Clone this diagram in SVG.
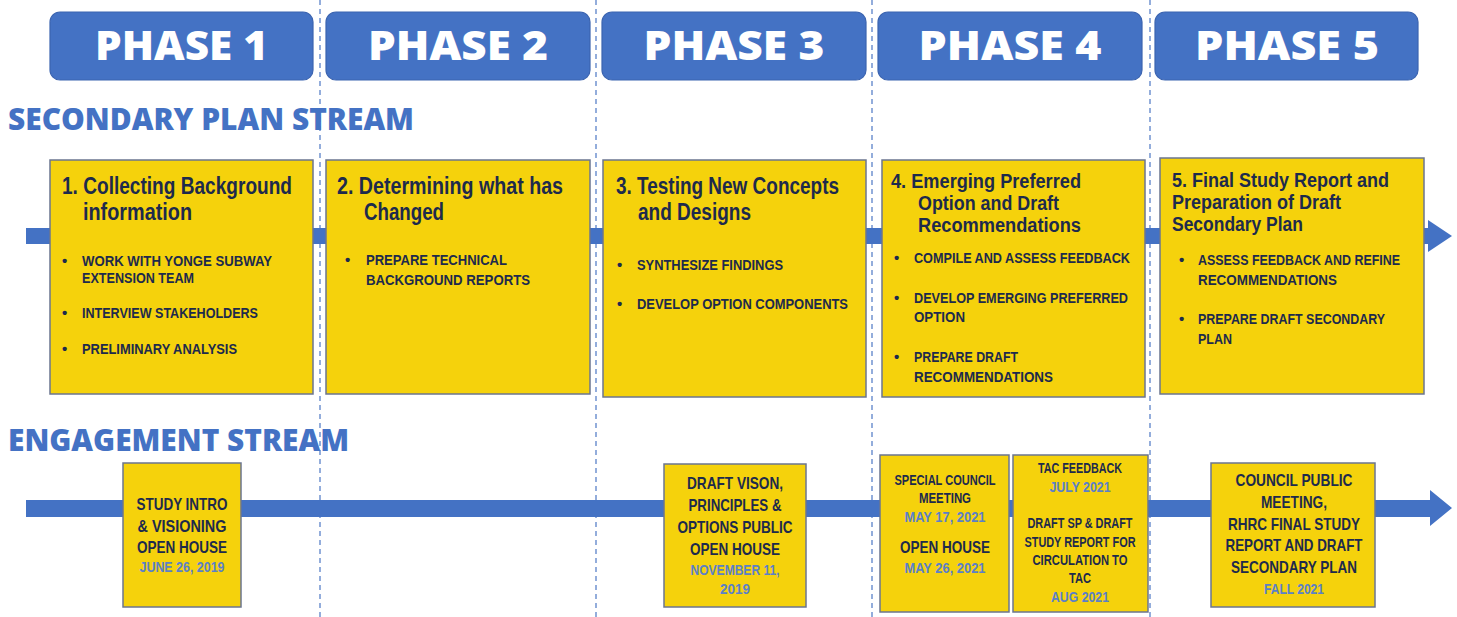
<svg xmlns="http://www.w3.org/2000/svg" width="1457" height="617" viewBox="0 0 1457 617">
<style>
.ph{fill:#4472c4;stroke:#3b64b0;stroke-width:1.2}
.pht{font-family:"Open Sans","Liberation Sans",sans-serif;font-weight:800;font-size:40px;fill:#ffffff;text-anchor:middle}
.stream{font-family:"Open Sans","Liberation Sans",sans-serif;font-weight:800;font-size:30px;fill:#4472c4}
.dash{stroke:#5a82c9;stroke-width:1.3;stroke-dasharray:5 4;fill:none}
.arrow{fill:#4472c4}
.box{fill:#f5d20c;stroke:#6b7590;stroke-width:1.5}
.ttl{font-family:"Liberation Sans Narrow","Liberation Sans",sans-serif;font-weight:700;font-size:23px;fill:#1d2a4c}
.ttl2{font-family:"Liberation Sans Narrow","Liberation Sans",sans-serif;font-weight:700;font-size:19.5px;fill:#1d2a4c}
.bl{font-family:"Liberation Sans Narrow","Liberation Sans",sans-serif;font-weight:700;font-size:15px;fill:#1d2a4c}
.et{font-family:"Liberation Sans Narrow","Liberation Sans",sans-serif;font-weight:700;font-size:17px;fill:#1d2a4c;text-anchor:middle}
.es{font-family:"Liberation Sans Narrow","Liberation Sans",sans-serif;font-weight:700;font-size:14.5px;fill:#1d2a4c;text-anchor:middle}
.dt{font-family:"Liberation Sans Narrow","Liberation Sans",sans-serif;font-weight:700;font-size:14.5px;fill:#5b80c8;text-anchor:middle}
</style>

<g id="dividers">
<line class="dash" x1="320" y1="0" x2="320" y2="617"/>
<line class="dash" x1="596" y1="0" x2="596" y2="617"/>
<line class="dash" x1="872" y1="0" x2="872" y2="617"/>
<line class="dash" x1="1150" y1="0" x2="1150" y2="617"/>
</g>

<g id="connectors">
<polygon class="arrow" points="26,228 1428,228 1428,220 1452,236 1428,252 1428,244 26,244"/>
<polygon class="arrow" points="26,500 1430,500 1430,490 1452,508 1430,526 1430,517 26,517"/>
</g>

<g id="phase1"><rect class="ph" x="50" y="12" width="263" height="68" rx="10"/><text class="pht" x="181.5" y="60" textLength="173" lengthAdjust="spacingAndGlyphs">PHASE 1</text></g>
<g id="phase2"><rect class="ph" x="326" y="12" width="264" height="68" rx="10"/><text class="pht" x="458" y="60" textLength="180" lengthAdjust="spacingAndGlyphs">PHASE 2</text></g>
<g id="phase3"><rect class="ph" x="602" y="12" width="264" height="68" rx="10"/><text class="pht" x="734" y="60" textLength="181" lengthAdjust="spacingAndGlyphs">PHASE 3</text></g>
<g id="phase4"><rect class="ph" x="878" y="12" width="264" height="68" rx="10"/><text class="pht" x="1010" y="60" textLength="183" lengthAdjust="spacingAndGlyphs">PHASE 4</text></g>
<g id="phase5"><rect class="ph" x="1155" y="12" width="263" height="68" rx="10"/><text class="pht" x="1287" y="60" textLength="184" lengthAdjust="spacingAndGlyphs">PHASE 5</text></g>

<g id="stream-labels">
<text class="stream" x="8" y="130" textLength="406" lengthAdjust="spacingAndGlyphs">SECONDARY PLAN STREAM</text>
<text class="stream" x="8" y="451" textLength="341" lengthAdjust="spacingAndGlyphs">ENGAGEMENT STREAM</text>
</g>

<g id="step1">
<rect class="box" x="50" y="160" width="263" height="234"/>
<text class="ttl" x="62" y="194" textLength="230" lengthAdjust="spacingAndGlyphs">1. Collecting Background</text>
<text class="ttl" x="83" y="220" textLength="109" lengthAdjust="spacingAndGlyphs">information</text>
<text class="bl" x="62" y="266">•</text>
<text class="bl" x="82" y="266" textLength="190" lengthAdjust="spacingAndGlyphs">WORK WITH YONGE SUBWAY</text>
<text class="bl" x="82" y="283" textLength="112" lengthAdjust="spacingAndGlyphs">EXTENSION TEAM</text>
<text class="bl" x="62" y="318">•</text>
<text class="bl" x="82" y="318" textLength="176" lengthAdjust="spacingAndGlyphs">INTERVIEW STAKEHOLDERS</text>
<text class="bl" x="62" y="354">•</text>
<text class="bl" x="82" y="354" textLength="155" lengthAdjust="spacingAndGlyphs">PRELIMINARY ANALYSIS</text>
</g>

<g id="step2">
<rect class="box" x="326" y="160" width="264" height="234"/>
<text class="ttl" x="337" y="194" textLength="226" lengthAdjust="spacingAndGlyphs">2. Determining what has</text>
<text class="ttl" x="364" y="220" textLength="80" lengthAdjust="spacingAndGlyphs">Changed</text>
<text class="bl" x="345" y="265">•</text>
<text class="bl" x="366" y="265" textLength="141" lengthAdjust="spacingAndGlyphs">PREPARE TECHNICAL</text>
<text class="bl" x="366" y="285" textLength="164" lengthAdjust="spacingAndGlyphs">BACKGROUND REPORTS</text>
</g>

<g id="step3">
<rect class="box" x="603" y="160" width="263" height="237"/>
<text class="ttl" x="616" y="194" textLength="223" lengthAdjust="spacingAndGlyphs">3. Testing New Concepts</text>
<text class="ttl" x="638" y="220" textLength="113" lengthAdjust="spacingAndGlyphs">and Designs</text>
<text class="bl" x="617" y="270">•</text>
<text class="bl" x="637" y="270" textLength="146" lengthAdjust="spacingAndGlyphs">SYNTHESIZE FINDINGS</text>
<text class="bl" x="617" y="309">•</text>
<text class="bl" x="637" y="309" textLength="211" lengthAdjust="spacingAndGlyphs">DEVELOP OPTION COMPONENTS</text>
</g>

<g id="step4">
<rect class="box" x="882" y="160" width="263" height="237"/>
<text class="ttl2" x="891" y="188" textLength="190" lengthAdjust="spacingAndGlyphs">4. Emerging Preferred</text>
<text class="ttl2" x="918" y="210" textLength="141" lengthAdjust="spacingAndGlyphs">Option and Draft</text>
<text class="ttl2" x="918" y="232" textLength="163" lengthAdjust="spacingAndGlyphs">Recommendations</text>
<text class="bl" x="894" y="263">•</text>
<text class="bl" x="914" y="263" textLength="216" lengthAdjust="spacingAndGlyphs">COMPILE AND ASSESS FEEDBACK</text>
<text class="bl" x="894" y="303">•</text>
<text class="bl" x="914" y="303" textLength="214" lengthAdjust="spacingAndGlyphs">DEVELOP EMERGING PREFERRED</text>
<text class="bl" x="914" y="322" textLength="51" lengthAdjust="spacingAndGlyphs">OPTION</text>
<text class="bl" x="894" y="362">•</text>
<text class="bl" x="914" y="362" textLength="104" lengthAdjust="spacingAndGlyphs">PREPARE DRAFT</text>
<text class="bl" x="914" y="382" textLength="139" lengthAdjust="spacingAndGlyphs">RECOMMENDATIONS</text>
</g>

<g id="step5">
<rect class="box" x="1160" y="158" width="264" height="236"/>
<text class="ttl2" x="1172" y="187" textLength="217" lengthAdjust="spacingAndGlyphs">5. Final Study Report and</text>
<text class="ttl2" x="1172" y="209" textLength="169" lengthAdjust="spacingAndGlyphs">Preparation of Draft</text>
<text class="ttl2" x="1172" y="231" textLength="131" lengthAdjust="spacingAndGlyphs">Secondary Plan</text>
<text class="bl" x="1179" y="265">•</text>
<text class="bl" x="1198" y="265" textLength="202" lengthAdjust="spacingAndGlyphs">ASSESS FEEDBACK AND REFINE</text>
<text class="bl" x="1198" y="285" textLength="139" lengthAdjust="spacingAndGlyphs">RECOMMENDATIONS</text>
<text class="bl" x="1179" y="324">•</text>
<text class="bl" x="1198" y="324" textLength="187" lengthAdjust="spacingAndGlyphs">PREPARE DRAFT SECONDARY</text>
<text class="bl" x="1198" y="344" textLength="34" lengthAdjust="spacingAndGlyphs">PLAN</text>
</g>

<g id="event1">
<rect class="box" x="123" y="463" width="118" height="144"/>
<text class="et" x="182" y="510" textLength="91" lengthAdjust="spacingAndGlyphs">STUDY INTRO</text>
<text class="et" x="182" y="532" textLength="89" lengthAdjust="spacingAndGlyphs">&amp; VISIONING</text>
<text class="et" x="182" y="553" textLength="90" lengthAdjust="spacingAndGlyphs">OPEN HOUSE</text>
<text class="dt" x="182" y="572" textLength="85" lengthAdjust="spacingAndGlyphs">JUNE 26, 2019</text>
</g>

<g id="event2">
<rect class="box" x="664" y="464" width="142" height="143"/>
<text class="et" x="735" y="489" textLength="96" lengthAdjust="spacingAndGlyphs">DRAFT VISON,</text>
<text class="et" x="735" y="511" textLength="93" lengthAdjust="spacingAndGlyphs">PRINCIPLES &amp;</text>
<text class="et" x="735" y="533" textLength="115" lengthAdjust="spacingAndGlyphs">OPTIONS PUBLIC</text>
<text class="et" x="735" y="555" textLength="90" lengthAdjust="spacingAndGlyphs">OPEN HOUSE</text>
<text class="dt" x="735" y="575" textLength="89" lengthAdjust="spacingAndGlyphs">NOVEMBER 11,</text>
<text class="dt" x="735" y="594" textLength="30" lengthAdjust="spacingAndGlyphs">2019</text>
</g>

<g id="event3">
<rect class="box" x="880" y="455" width="129" height="157"/>
<text class="es" x="945" y="485" textLength="101" lengthAdjust="spacingAndGlyphs">SPECIAL COUNCIL</text>
<text class="es" x="945" y="503" textLength="52" lengthAdjust="spacingAndGlyphs">MEETING</text>
<text class="dt" x="945" y="522" textLength="81" lengthAdjust="spacingAndGlyphs">MAY 17, 2021</text>
<text class="et" x="945" y="553" textLength="90" lengthAdjust="spacingAndGlyphs">OPEN HOUSE</text>
<text class="dt" x="945" y="573" textLength="81" lengthAdjust="spacingAndGlyphs">MAY 26, 2021</text>
</g>

<g id="event4">
<rect class="box" x="1013" y="455" width="135" height="157"/>
<text class="es" x="1080" y="473" textLength="84" lengthAdjust="spacingAndGlyphs">TAC FEEDBACK</text>
<text class="dt" x="1080" y="492" textLength="61" lengthAdjust="spacingAndGlyphs">JULY 2021</text>
<text class="es" x="1080" y="528" textLength="105" lengthAdjust="spacingAndGlyphs">DRAFT SP &amp; DRAFT</text>
<text class="es" x="1080" y="547" textLength="111" lengthAdjust="spacingAndGlyphs">STUDY REPORT FOR</text>
<text class="es" x="1080" y="565" textLength="95" lengthAdjust="spacingAndGlyphs">CIRCULATION TO</text>
<text class="es" x="1080" y="583" textLength="22" lengthAdjust="spacingAndGlyphs">TAC</text>
<text class="dt" x="1080" y="602" textLength="58" lengthAdjust="spacingAndGlyphs">AUG 2021</text>
</g>

<g id="event5">
<rect class="box" x="1211" y="463" width="164" height="144"/>
<text class="et" x="1294" y="486" textLength="117" lengthAdjust="spacingAndGlyphs">COUNCIL PUBLIC</text>
<text class="et" x="1294" y="508" textLength="66" lengthAdjust="spacingAndGlyphs">MEETING,</text>
<text class="et" x="1294" y="530" textLength="132" lengthAdjust="spacingAndGlyphs">RHRC FINAL STUDY</text>
<text class="et" x="1294" y="551" textLength="137" lengthAdjust="spacingAndGlyphs">REPORT AND DRAFT</text>
<text class="et" x="1294" y="573" textLength="126" lengthAdjust="spacingAndGlyphs">SECONDARY PLAN</text>
<text class="dt" x="1294" y="594" textLength="60" lengthAdjust="spacingAndGlyphs">FALL 2021</text>
</g>
</svg>
